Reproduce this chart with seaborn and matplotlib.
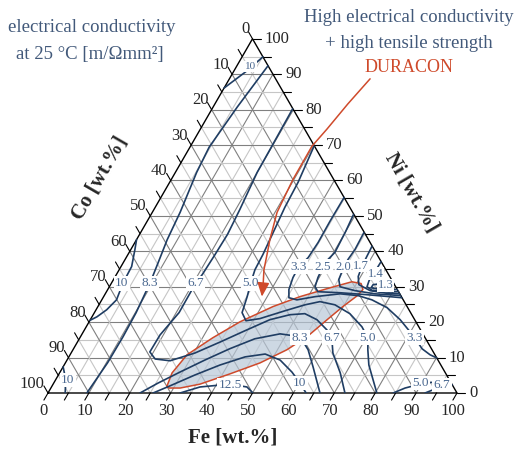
import numpy as np
import pandas as pd
import matplotlib.pyplot as plt
import seaborn as sns

# --------------------------------------------------------------------------- #
# Isolines, as (Fe, Ni) in wt.% (Co is the remainder)
# --------------------------------------------------------------------------- #
FE_10_TOP = [0.0, 3.0, 5.1]
NI_10_TOP = [86.1, 90.7, 94.9]

FE_83_LEFT = [7.6, 5.9, 4.7, 5.2, 6.8, 7.5, 8.5, 9.4, 10.2, 10.4, 10.3, 9.5]
NI_83_LEFT = [92.4, 80.7, 69.4, 62.3, 51.0, 43.3, 37.0, 31.2, 22.7, 15.9, 8.5, 0.0]

FE_10_LEFT = [0.0, 1.0, 2.6, 2.8, 3.6, 2.6, 1.2, 0.0]
NI_10_LEFT = [43.3, 40.5, 35.7, 31.2, 26.3, 23.5, 21.5, 20.5]

FE_10_CORNER = [0.0, 2.5, 4.2]
NI_10_CORNER = [7.4, 3.7, 0.0]

FE_67 = [19.7, 19.9, 20.0, 21.0, 21.5, 21.3, 21.0, 20.6, 20.7, 19.2, 19.1, 21.4, 25.3,
         30.3, 34.9, 39.4, 43.9, 48.1, 51.6, 55.4, 59.3, 61.6, 64.0, 68.6, 72.6]
NI_67 = [80.2, 68.8, 62.3, 51.8, 44.8, 39.1, 33.4, 31.2, 22.7, 16.4, 11.6, 9.6, 9.1,
         11.3, 14.4, 17.6, 20.7, 22.1, 22.4, 20.7, 17.8, 15.6, 11.3, 5.7, 0.0]

FE_50 = [30.2, 31.4, 31.7, 32.4, 33.0, 33.2, 34.0, 35.1, 36.1, 38.2, 41.3, 46.3, 50.4,
         53.6, 57.7, 62.6, 67.4, 70.4, 72.1, 74.5, 80.4]
NI_50 = [69.7, 59.5, 52.4, 45.3, 39.1, 34.8, 31.2, 27.2, 22.7, 20.4, 21.0, 23.2, 24.9,
         25.8, 24.9, 22.4, 18.7, 15.6, 12.2, 7.9, 0.0]

FE_33 = [44.8, 44.7, 44.8, 44.5, 43.5, 43.6, 44.3, 45.45, 47.7, 51.7, 57.4, 62.05,
         66.05, 70.85, 75.75, 79.85, 81.9, 85.2, 88.0, 90.1]
NI_33 = [55.2, 48.4, 42.5, 38.2, 35.7, 32.6, 29.2, 26.9, 26.3, 27.2, 28.0, 27.5,
         26.3, 24.1, 20.7, 17.3, 15.6, 12.5, 10.8, 9.9]

FE_25 = [49.5, 50.0, 50.3, 49.4, 49.4, 49.7, 50.3, 51.7, 57.3, 63.6, 73.1]
NI_25 = [50.4, 45.3, 39.7, 37.1, 35.7, 32.6, 30.0, 28.6, 28.3, 27.8, 26.9]

FE_20 = [54.6, 54.8, 54.5, 54.5, 55.1, 56.4, 60.6, 65.95, 72.5]
NI_20 = [45.3, 40.5, 37.7, 35.7, 32.0, 30.0, 28.9, 28.0, 27.5]

FE_17 = [58.5, 58.7, 58.9, 59.4, 60.7, 64.3, 69.1, 72.0]
NI_17 = [41.4, 38.2, 35.7, 32.9, 30.6, 28.9, 28.1, 28.0]

FE_14 = [62.9, 62.8, 62.65, 63.0, 64.7, 69.0, 71.4]
NI_14 = [37.1, 34.3, 31.7, 30.0, 29.0, 28.5, 28.6]

FE_13 = [69.1, 66.7, 64.2, 64.15, 67.25, 70.8]
NI_13 = [30.9, 30.9, 30.6, 29.7, 29.1, 29.2]

FE_83_ARCH = [22.5, 25.5, 29.3, 33.7, 38.2, 42.9, 48.4, 53.7, 57.5, 61.1, 66.5]
NI_83_ARCH = [0.0, 2.8, 5.9, 9.3, 12.5, 15.3, 16.7, 15.9, 12.2, 7.4, 0.0]

FE_10_ARCH = [25.7, 28.8, 33.4, 38.1, 43.1, 47.6, 52.1, 56.7, 60.2, 63.1]
NI_10_ARCH = [0.0, 2.0, 5.1, 7.9, 10.2, 11.0, 9.3, 5.9, 2.8, 0.0]

FE_125 = [32.3, 36.3, 43.2, 47.8, 50.1]
NI_125 = [0.0, 1.7, 2.5, 1.7, 0.0]

FE_50_BR = [84.4, 86.6, 89.7, 92.8, 96.3]
NI_50_BR = [0.0, 1.4, 2.5, 3.1, 3.7]

FE_67_BR = [92.2, 95.0, 97.7]
NI_67_BR = [0.0, 1.7, 2.3]

CONTOURS = [
    (FE_10_TOP, NI_10_TOP), (FE_83_LEFT, NI_83_LEFT), (FE_10_LEFT, NI_10_LEFT),
    (FE_10_CORNER, NI_10_CORNER), (FE_67, NI_67), (FE_50, NI_50), (FE_33, NI_33),
    (FE_25, NI_25), (FE_20, NI_20), (FE_17, NI_17), (FE_14, NI_14), (FE_13, NI_13),
    (FE_83_ARCH, NI_83_ARCH), (FE_10_ARCH, NI_10_ARCH), (FE_125, NI_125),
    (FE_50_BR, NI_50_BR), (FE_67_BR, NI_67_BR),
]

# isoline labels
LABEL_TEXT = ["10", "10", "8.3", "6.7", "5.0", "3.3", "2.5", "2.0", "1.7", "1.4", "1.3",
              "8.3", "6.7", "5.0", "3.3", "10", "12.5", "5.0", "6.7", "10"]
LABEL_FE = [3.4, 2.5, 9.3, 20.5, 34.0, 43.5, 49.4, 54.3, 58.6, 63.3, 67.4,
            53.8, 61.6, 70.4, 81.9, 60.2, 43.4, 89.6, 95.2, 3.0]
LABEL_NI = [92.1, 31.0, 31.0, 31.0, 31.0, 35.7, 35.7, 35.7, 35.9, 33.6, 30.4,
            15.6, 15.6, 15.6, 15.6, 2.8, 2.3, 2.8, 2.3, 3.7]

# DURACON region and the arrow pointing at it
REGION_FE = [28.1, 27.5, 28.6, 32.5, 36.9, 42.8, 48.0, 54.1, 58.6, 61.1, 62.4, 61.9,
             59.9, 57.9, 55.4, 52.3, 47.6, 41.8, 35.9, 31.6, 28.9]
REGION_NI = [2.0, 5.7, 10.8, 15.6, 20.1, 24.4, 27.2, 29.7, 31.4, 30.9, 29.2, 27.5,
             24.4, 20.7, 15.9, 12.2, 8.5, 5.4, 2.5, 1.4, 1.4]

ARROW_FE = [34.4, 32.5, 30.95, 29.7, 29.75, 30.5, 32.6, 34.0, 35.4, 37.3]
ARROW_NI = [88.7, 81.6, 74.5, 69.7, 60.3, 51.0, 43.3, 39.1, 34.8, 30.6]
ARROW_TIP = (38.7, 27.2)

TICKS = list(range(0, 101, 5))
TICK_LABELS = list(range(0, 101, 10))

NAVY = "#1f3d63"
LABEL_C = "#4a6890"
TITLE_C = "#42597a"
RED = "#cf4a2b"

SQ3 = np.sqrt(3) / 2


def tern(fe, ni):
    """(Fe, Ni) -> cartesian position inside the triangle."""
    fe = np.asarray(fe, dtype=float)
    ni = np.asarray(ni, dtype=float)
    return fe + ni / 2, ni * SQ3


sns.set_theme(style="white")
plt.rcParams["font.family"] = ["Liberation Serif", "DejaVu Serif"]

fig = plt.figure(figsize=(5.17, 4.49), dpi=100)
ax = fig.add_axes([48 / 517, 56 / 449, 409 / 517, 354.2 / 449])
ax.set_xlim(0, 100)
ax.set_ylim(0, 100 * SQ3)
ax.axis("off")

# grid every 5 wt.%
for v in range(5, 100, 5):
    kw = dict(color="#808080" if v % 10 == 0 else "#c6c6c6", lw=0.8, zorder=1)
    for fe, ni in [([0, 100 - v], [v, v]), ([v, v], [0, 100 - v]),
                   ([100 - v, 0], [0, 100 - v])]:
        ax.plot(*tern(fe, ni), **kw)

ax.plot(*tern([0, 100, 0, 0], [0, 0, 100, 0]), color="black", lw=1.0, zorder=2,
        clip_on=False)

# ticks and tick labels
L = 2.0
for v in TICKS:
    x0, y0 = tern(v, 0)
    ax.plot([x0, x0 - 0.5 * L], [y0, y0 - SQ3 * L], color="black", lw=0.8, clip_on=False)
    x0, y0 = tern(100 - v, v)
    ax.plot([x0, x0 + L], [y0, y0], color="black", lw=0.8, clip_on=False)
    x0, y0 = tern(0, 100 - v)
    ax.plot([x0, x0 - 0.5 * L], [y0, y0 + SQ3 * L], color="black", lw=0.8, clip_on=False)

for v in TICK_LABELS:
    x0, y0 = tern(v, 0)
    ax.text(x0 - 1.1, y0 - 4.3, str(v), ha="center", va="center", fontsize=12)
    x0, y0 = tern(100 - v, v)
    ax.text(x0 + 3.0, y0, str(v), ha="left", va="center", fontsize=12)
    x0, y0 = tern(0, 100 - v)
    ax.text(x0 - 0.8, y0 + 2.3, str(v), ha="right", va="center", fontsize=12)

# DURACON region
rx, ry = tern(REGION_FE, REGION_NI)
ax.fill(rx, ry, fc="#b9c8d8", ec="none", alpha=0.7, zorder=1.5)
ax.plot(np.append(rx, rx[0]), np.append(ry, ry[0]), color=RED, lw=1.1, zorder=2.5)

# isolines
frames = []
for i, (fe, ni) in enumerate(CONTOURS):
    x, y = tern(fe, ni)
    frames.append(pd.DataFrame({"x": x, "y": y, "line": i}))
df = pd.concat(frames, ignore_index=True)
sns.lineplot(data=df, x="x", y="y", units="line", estimator=None, sort=False,
             color=NAVY, linewidth=1.2, ax=ax, legend=False, zorder=3)
ax.axis("off")

for t, fe, ni in zip(LABEL_TEXT, LABEL_FE, LABEL_NI):
    x, y = tern(fe, ni)
    small = t in ("1.7", "1.4", "1.3", "2.0")
    ax.text(x, y, t, ha="center", va="center", color=LABEL_C,
            fontsize=8 if (t == "10" and ni > 90) else (9 if small else 9.5), zorder=4,
            bbox=dict(boxstyle="square,pad=0.04" if small else "square,pad=0.1",
                      fc="white", ec="none"))

# arrow
axx, axy = tern(ARROW_FE, ARROW_NI)
ax.plot(axx, axy, color=RED, lw=1.1, zorder=5, clip_on=False)
tx, ty = tern(*ARROW_TIP)
ax.annotate("", xy=(tx, ty), xytext=(axx[-1], axy[-1]), zorder=5,
            arrowprops=dict(arrowstyle="-|>,head_length=0.7,head_width=0.3",
                            color=RED, lw=1.1, shrinkA=0, shrinkB=0))

# axis titles
ax.text(45.2, -10.8, "Fe [wt.%]", ha="center", va="center", fontsize=15,
        fontweight="bold")
ax.text(12.7, 52.6, "Co [wt.%]", ha="center", va="center", fontsize=15,
        fontweight="bold", rotation=60, rotation_mode="anchor")
ax.text(89.0, 49.1, "Ni [wt.%]", ha="center", va="center", fontsize=15,
        fontweight="bold", rotation=-60, rotation_mode="anchor")

# header texts
W, H = 517, 449
fig.text(92 / W, 1 - 27 / H, "electrical conductivity", ha="center", va="center",
         fontsize=13.5, color=TITLE_C)
fig.text(90 / W, 1 - 55 / H, "at 25 °C [m/Ωmm²]", ha="center", va="center",
         fontsize=13.5, color=TITLE_C)
fig.text(409 / W, 1 - 18 / H, "High electrical conductivity", ha="center", va="center",
         fontsize=13.5, color=TITLE_C)
fig.text(409 / W, 1 - 44 / H, "+ high tensile strength", ha="center", va="center",
         fontsize=13.5, color=TITLE_C)
fig.text(409 / W, 1 - 67 / H, "DURACON", ha="center", va="center",
         fontsize=13, color=RED)

fig.savefig("out.png", dpi=100)
